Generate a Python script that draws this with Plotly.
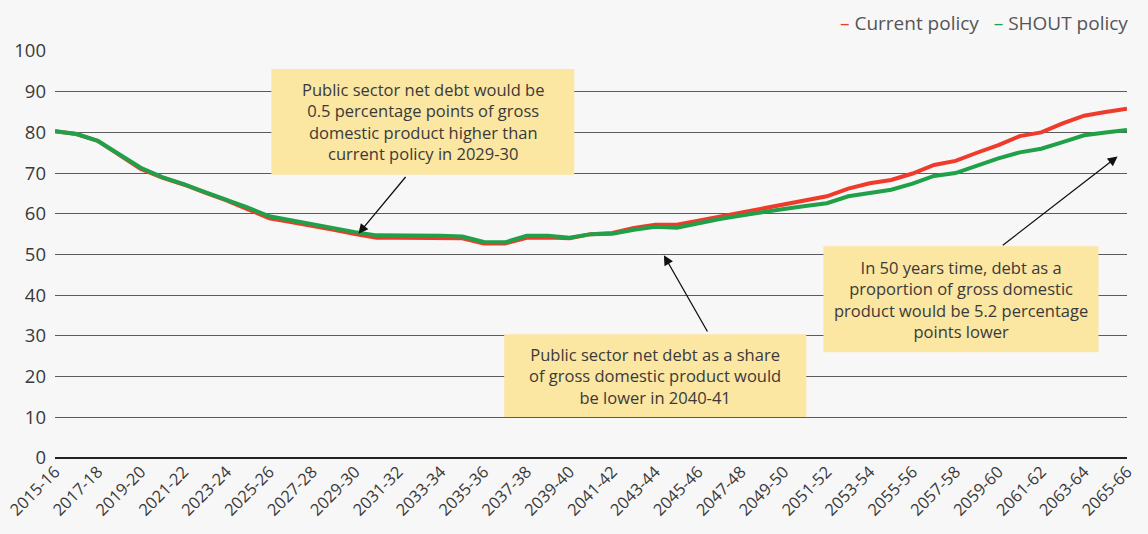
import plotly.graph_objects as go

# Financial years on the x axis
years = [f"{y}-{str(y + 1)[-2:]}" for y in range(2015, 2066)]

# Public sector net debt, % of GDP
current_policy = [
    80.3, 79.6, 77.9, 74.4, 71.0, 68.9, 67.2, 65.2, 63.3, 61.1,
    58.9, 58.0, 57.1, 56.1, 55.0, 54.1, 54.1, 54.1, 54.0, 54.0,
    52.7, 52.7, 54.1, 54.2, 54.0, 55.0, 55.3, 56.5, 57.3, 57.3,
    58.3, 59.3, 60.4, 61.3, 62.3, 63.3, 64.3, 66.2, 67.5, 68.3,
    69.9, 72.0, 73.0, 75.0, 76.9, 79.1, 80.0, 82.2, 84.1, 85.0,
    85.8,
]
shout_policy = [
    80.3, 79.6, 77.9, 74.6, 71.3, 69.0, 67.3, 65.3, 63.5, 61.5,
    59.4, 58.4, 57.5, 56.5, 55.5, 54.7, 54.7, 54.7, 54.6, 54.4,
    53.1, 53.0, 54.6, 54.6, 54.1, 55.0, 55.1, 56.1, 56.8, 56.6,
    57.7, 58.7, 59.6, 60.5, 61.2, 61.9, 62.6, 64.3, 65.2, 65.9,
    67.4, 69.3, 70.0, 71.8, 73.6, 75.1, 76.0, 77.6, 79.3, 80.0,
    80.6,
]

y_ticks = list(range(0, 101, 10))
x_ticks = years[::2]

RED = "#ee3b2b"
GREEN = "#21a04a"
BOX = "#fbe6a2"
TEXT = "#3a3a3a"
FONT = "Open Sans"

fig = go.Figure()
fig.add_trace(go.Scatter(x=years, y=current_policy, mode="lines", name="Current policy",
                         line=dict(color=RED, width=4)))
fig.add_trace(go.Scatter(x=years, y=shout_policy, mode="lines", name="SHOUT policy",
                         line=dict(color=GREEN, width=4)))

# Callout boxes (category index, value) and their text
callouts = [
    dict(x0=10.09, x1=24.22, y0=69.6, y1=95.6,
         text="Public sector net debt would be<br>0.5 percentage points of gross<br>"
              "domestic product higher than<br>current policy in 2029-30"),
    dict(x0=20.95, x1=35.04, y0=10.1, y1=30.4,
         text="Public sector net debt as a share<br>of gross domestic product would<br>"
              "be lower in 2040-41"),
    dict(x0=35.84, x1=48.67, y0=26.0, y1=52.0,
         text="In 50 years time, debt as a<br>proportion of gross domestic<br>"
              "product would be 5.2 percentage<br>points lower"),
]
# Arrows: tail (ax, ay) to tip (x, y)
arrows = [
    dict(ax=16.41, ay=69.4, x=14.15, y=55.1),
    dict(ax=30.47, ay=30.7, x=28.4, y=49.8),
    dict(ax=44.14, ay=52.0, x=49.56, y=74.1),
]

for c in callouts:
    fig.add_shape(type="rect", xref="x", yref="y", x0=c["x0"], x1=c["x1"],
                  y0=c["y0"], y1=c["y1"], fillcolor=BOX, line=dict(width=0), layer="above")
    fig.add_annotation(xref="x", yref="y", x=(c["x0"] + c["x1"]) / 2,
                       y=(c["y0"] + c["y1"]) / 2, text=c["text"], showarrow=False,
                       font=dict(family=FONT, size=16.5, color=TEXT), align="center")

for a in arrows:
    fig.add_annotation(xref="x", yref="y", axref="x", ayref="y", x=a["x"], y=a["y"],
                       ax=a["ax"], ay=a["ay"], text="", showarrow=True,
                       arrowhead=2, arrowsize=1.5, arrowwidth=1.3, arrowcolor="#111111")

# Legend drawn as text with short coloured dashes
fig.add_annotation(
    xref="paper", yref="paper", x=1.003, y=1.07, xanchor="right", yanchor="middle",
    text=f'<span style="color:{RED}">–</span> Current policy'
         f'&nbsp;&nbsp;&nbsp;<span style="color:{GREEN}">–</span> SHOUT policy',
    showarrow=False, font=dict(family=FONT, size=19, color="#555555"),
)

fig.update_layout(
    width=1148, height=534,
    margin=dict(l=55, r=21, t=51, b=76),
    paper_bgcolor="#f7f7f7", plot_bgcolor="#f7f7f7",
    showlegend=False,
    font=dict(family=FONT, color=TEXT),
    xaxis=dict(type="category", range=[0, 50], tickvals=x_ticks, ticktext=x_ticks,
               tickangle=-45, showgrid=False, showline=False, zeroline=False,
               tickfont=dict(size=16.5, color=TEXT), automargin=False),
    yaxis=dict(range=[0, 100], tickvals=y_ticks, showgrid=True, gridcolor="#5a5a5a",
               gridwidth=1.3, zeroline=True, zerolinecolor="#222222", zerolinewidth=1.6,
               showline=False, tickfont=dict(size=18.5, color=TEXT),
               ticklabelstandoff=8, automargin=False),
)

fig.write_html("out.html")
